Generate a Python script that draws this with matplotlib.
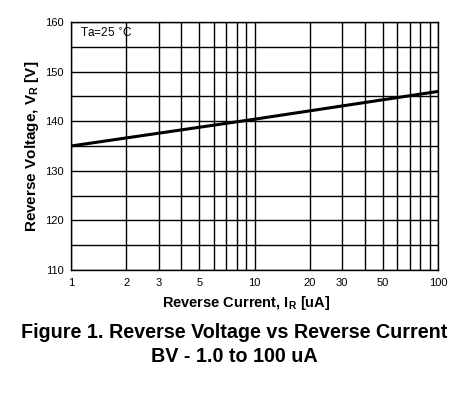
import matplotlib
matplotlib.use("Agg")
import matplotlib.pyplot as plt
from matplotlib.ticker import FixedLocator, NullFormatter

plt.rcParams['font.family'] = ['Liberation Sans', 'DejaVu Sans']

current = [1, 10, 100]
voltage = [135.0, 140.4, 146.0]
xtick_major = [1, 2, 3, 5, 10, 20, 30, 50, 100]
xtick_labels = ['1', '2', '3', '5', '10', '20', '30', '50', '100']
xgrid = [1, 2, 3, 4, 5, 6, 7, 8, 9, 10, 20, 30, 40, 50, 60, 70, 80, 90, 100]
yticks = [110, 120, 130, 140, 150, 160]
ygrid = [110, 115, 120, 125, 130, 135, 140, 145, 150, 155, 160]

fig = plt.figure(figsize=(4.72, 3.99), dpi=100)
ax = fig.add_axes([71/472, 1-270/399, (438-71)/472, (270-22)/399])
ax.set_xscale('log')
ax.set_xlim(1, 100)
ax.set_ylim(110, 160)
for g in xgrid:
    ax.axvline(g, color='black', lw=1.0, zorder=1)
for g in ygrid:
    ax.axhline(g, color='black', lw=1.0, zorder=1)
ax.plot(current, voltage, color='black', lw=2.2, zorder=3)
ax.xaxis.set_major_locator(FixedLocator(xtick_major))
ax.set_xticklabels(xtick_labels)
ax.xaxis.set_minor_locator(FixedLocator([]))
ax.xaxis.set_minor_formatter(NullFormatter())
ax.set_yticks(yticks)
ax.tick_params(axis='both', length=0, labelsize=8, pad=6)
ax.tick_params(axis='y', pad=5)
for s in ax.spines.values():
    s.set_linewidth(1.0)
ax.text(1.12, 157.6, 'Ta=25 $^{\\circ}$C', fontsize=8.5, va='center', ha='left')
ax.set_ylabel('Reverse Voltage, V$_\\mathregular{R}$ [V]', fontsize=11, fontweight='bold', labelpad=3)
ax.set_xlabel('Reverse Current, I$_\\mathregular{R}$ [uA]', fontsize=10.5, fontweight='bold', labelpad=6)
ax.xaxis.set_label_coords(0.477, -0.095)
fig.text(0.497, 1-333/399, 'Figure 1. Reverse Voltage vs Reverse Current', ha='center', va='center', fontsize=14.2, fontweight='bold')
fig.text(0.497, 1-357/399, 'BV - 1.0 to 100 uA', ha='center', va='center', fontsize=14.2, fontweight='bold')
fig.savefig('out.png', dpi=100)
